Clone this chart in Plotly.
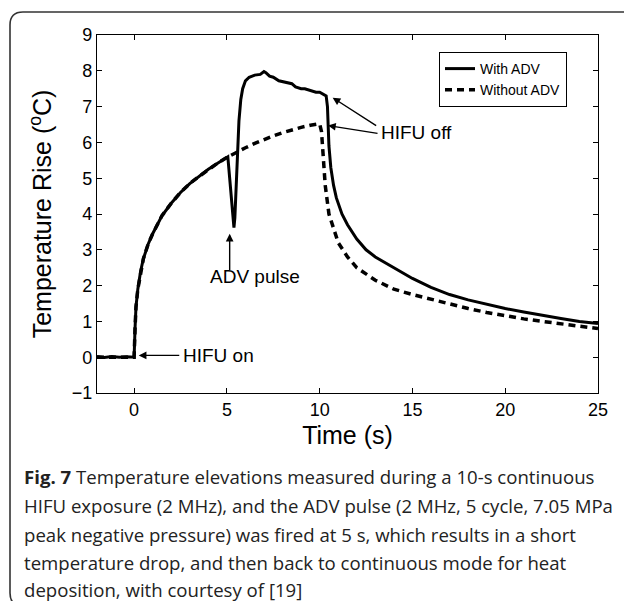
import plotly.graph_objects as go

# ---- data ----
t_with = [-2.0, -1.6, -1.2, -0.8, -0.4, 0.0, 0.05, 0.1, 0.2, 0.35, 0.5, 0.75, 1.0, 1.5, 2.0, 2.5,
          3.0, 3.5, 4.0, 4.5, 5.0, 5.05, 5.15, 5.25, 5.33, 5.38, 5.43, 5.5, 5.58, 5.65, 5.75,
          5.85, 6.0, 6.2, 6.5, 6.8, 7.0, 7.1, 7.3, 7.5, 7.8, 8.0, 8.3, 8.5, 8.7, 9.0, 9.2,
          9.5, 9.8, 10.0, 10.2, 10.35, 10.42, 10.45, 10.5, 10.6, 10.75, 10.9, 11.2, 11.5,
          12.0, 12.5, 13.0, 14.0, 15.0, 16.0, 17.0, 18.0, 19.0, 20.0, 21.0, 22.0, 23.0,
          24.0, 25.0]
v_with = [0.02, -0.01, 0.02, 0.0, 0.01, 0.0, 0.8, 1.4, 1.9, 2.4, 2.75, 3.15, 3.45, 3.95, 4.3, 4.6,
          4.85, 5.05, 5.25, 5.42, 5.58, 5.6, 5.0, 4.3, 3.8, 3.62, 3.9, 4.8, 5.8, 6.6, 7.2,
          7.5, 7.72, 7.82, 7.88, 7.9, 7.98, 7.95, 7.85, 7.82, 7.72, 7.7, 7.68, 7.64, 7.55,
          7.5, 7.5, 7.45, 7.4, 7.4, 7.35, 7.3, 7.0, 6.5, 5.9, 5.3, 4.8, 4.45, 4.0, 3.7,
          3.3, 3.0, 2.8, 2.5, 2.2, 1.95, 1.75, 1.6, 1.47, 1.36, 1.26, 1.16, 1.08, 1.0, 0.94]

t_without = [-2.0, -1.0, 0.0, 0.05, 0.1, 0.2, 0.35, 0.5, 0.75, 1.0, 1.5, 2.0, 2.5, 3.0, 3.5, 4.0,
             4.5, 5.0, 5.5, 6.0, 6.5, 7.0, 7.5, 8.0, 8.5, 9.0, 9.5, 10.0, 10.1, 10.2, 10.3,
             10.5, 11.0, 11.5, 12.0, 13.0, 14.0, 15.0, 16.0, 17.0, 18.0, 19.0, 20.0, 21.0,
             22.0, 23.0, 24.0, 25.0]
v_without = [0.0, 0.0, 0.0, 0.8, 1.4, 1.9, 2.4, 2.75, 3.15, 3.45, 3.95, 4.3, 4.6, 4.85, 5.05, 5.25,
             5.42, 5.58, 5.72, 5.85, 5.97, 6.08, 6.18, 6.27, 6.35, 6.42, 6.48, 6.52, 6.3, 5.5, 4.8,
             4.0, 3.2, 2.8, 2.5, 2.15, 1.9, 1.75, 1.62, 1.48, 1.36, 1.25, 1.15, 1.07,
             1.0, 0.93, 0.86, 0.8]

series_names = ["With ADV", "Without ADV"]
x_ticks = [0, 5, 10, 15, 20, 25]
y_ticks = [-1, 0, 1, 2, 3, 4, 5, 6, 7, 8, 9]

caption_lines = [
    "<b>Fig. 7</b> Temperature elevations measured during a 10-s continuous",
    "HIFU exposure (2 MHz), and the ADV pulse (2 MHz, 5 cycle, 7.05 MPa",
    "peak negative pressure) was fired at 5 s, which results in a short",
    "temperature drop, and then back to continuous mode for heat",
    "deposition, with courtesy of [19]",
]

# ---- figure ----
W, H = 624, 601
L, R, T, B = 97, 26, 35, 208
pw, ph = W - L - R, H - T - B

def px_x(p):
    return (p - L) / pw

def px_y(p):
    return (H - B - p) / ph

fig = go.Figure()
fig.add_trace(go.Scatter(x=t_with, y=v_with, mode="lines", name=series_names[0],
                         line=dict(color="black", width=3)))
fig.add_trace(go.Scatter(x=t_without, y=v_without, mode="lines", name=series_names[1],
                         line=dict(color="black", width=3.5, dash="7px,5px")))

axis_font = dict(family="Liberation Sans, Arial", size=18, color="black")
fig.update_xaxes(range=[-2, 25], tickvals=x_ticks, ticks="inside", ticklen=5, tickwidth=1.3,
                 tickcolor="black", showline=True, linecolor="black", linewidth=1.3,
                 mirror="ticks", showgrid=False, zeroline=False, tickfont=axis_font,
                 title=dict(text="Time (s)", font=dict(family="Liberation Sans, Arial", size=25,
                                                       color="black"), standoff=7))
fig.update_yaxes(range=[-1, 9], tickvals=y_ticks, ticks="inside", ticklen=5, tickwidth=1.3,
                 tickcolor="black", showline=True, linecolor="black", linewidth=1.3,
                 mirror="ticks", showgrid=False, zeroline=False, tickfont=axis_font,
                 title=dict(text="Temperature Rise (<sup>o</sup>C)",
                            font=dict(family="Liberation Sans, Arial", size=25, color="black"),
                            standoff=12))

ann_font = dict(family="Liberation Sans, Arial", size=19, color="black")
arrow = dict(showarrow=True, arrowhead=2, arrowsize=1.1, arrowwidth=1.4, arrowcolor="black",
             text="", xref="x", yref="y")
anns = [
    dict(x=0.25, y=0.05, ax=42, ay=0, **arrow),
    dict(x=5.15, y=3.45, ax=0, ay=38, **arrow),
    dict(x=10.7, y=7.25, ax=45, ay=29, **arrow),
    dict(x=10.45, y=6.47, ax=51, ay=8, **arrow),
    dict(x=2.5, y=0.05, text="HIFU on", showarrow=False, xanchor="left", yanchor="middle",
         font=ann_font, xref="x", yref="y"),
    dict(x=6.5, y=2.26, text="ADV pulse", showarrow=False, xanchor="center", yanchor="middle",
         font=ann_font, xref="x", yref="y"),
    dict(x=13.2, y=6.28, text="HIFU off", showarrow=False, xanchor="left", yanchor="middle",
         font=ann_font, xref="x", yref="y"),
]
cap_y = [476, 505, 534, 562, 589]
for line, yy in zip(caption_lines, cap_y):
    anns.append(dict(x=px_x(22), y=px_y(yy), xref="paper", yref="paper", text=line,
                     showarrow=False, xanchor="left", yanchor="middle",
                     font=dict(family="Open Sans", size=18.6, color="#222222")))

# rounded frame around figure + caption (top and left edges only visible)
x0, y0 = px_x(10), px_y(12)
x1, y1 = px_x(624), px_y(606)
rx, ry = 13 / pw, 13 / ph
path = (f"M {x1},{y0} L {x0 + rx},{y0} Q {x0},{y0} {x0},{y0 - ry} "
        f"L {x0},{y1 + ry} Q {x0},{y1} {x0 + rx},{y1}")
fig.add_shape(type="path", path=path, xref="paper", yref="paper",
              line=dict(color="#333333", width=1.6))

fig.update_layout(
    width=W, height=H, margin=dict(l=L, r=R, t=T, b=B, autoexpand=False),
    paper_bgcolor="white", plot_bgcolor="white", annotations=anns,
    showlegend=True,
    legend=dict(x=px_x(439), y=px_y(52), xanchor="left", yanchor="top",
                bgcolor="white", bordercolor="black", borderwidth=1,
                font=dict(family="Liberation Sans, Arial", size=14, color="black"),
                tracegroupgap=0, itemwidth=30),
)

fig.write_html("out.html", config={"displayModeBar": False},
               post_script="document.body.style.margin='0';"
                           "document.documentElement.style.margin='0';"
                           "document.body.style.overflow='hidden';")
